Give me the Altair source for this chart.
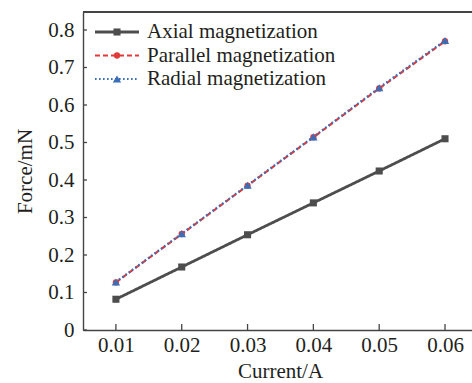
import altair as alt
import pandas as pd

current = [0.01, 0.02, 0.03, 0.04, 0.05, 0.06]
axial = [0.082, 0.168, 0.254, 0.339, 0.424, 0.510]
parallel = [0.127, 0.256, 0.385, 0.514, 0.644, 0.770]
radial = [0.128, 0.257, 0.386, 0.515, 0.646, 0.772]
series_names = ["Axial magnetization", "Parallel magnetization", "Radial magnetization"]
y_ticks = [0, 0.1, 0.2, 0.3, 0.4, 0.5, 0.6, 0.7, 0.8]
x_ticks = current

W, H = 389, 318
FONT = "Liberation Serif"
TXT = "#231f20"
colors = ["#4d4d4d", "#e03a3a", "#3a6fb8"]
dashes = [[1, 0], [5, 3], [1.6, 2.4]]
shapes = ["square", "circle", "triangle-up"]
sizes = [50, 40, 70]
widths = [2.8, 2.2, 2.2]

df = pd.DataFrame({"current": current, "axial": axial, "parallel": parallel, "radial": radial})

xs = alt.Scale(domain=[0.005, 0.0641], nice=False, zero=False)
ys = alt.Scale(domain=[0, 0.848], nice=False)

xax = alt.Axis(values=x_ticks, format=".2f", ticks=False, grid=False, domainColor="#444",
               domainWidth=1.4, labelFont=FONT, labelFontSize=21, labelColor=TXT,
               labelPadding=4, title="Current/A", titleFont=FONT, titleFontSize=21,
               titleFontWeight="normal", titleColor=TXT, titleX=197, titleY=47,
               titleBaseline="alphabetic", titleAlign="center")
yax = alt.Axis(values=y_ticks, ticks=False, grid=False, domainColor="#444", domainWidth=1.4,
               labelFont=FONT, labelFontSize=21, labelColor=TXT, labelPadding=9,
               labelExpr="datum.value == 0 ? '0' : format(datum.value, '.1f')",
               title="Force/mN", titleFont=FONT, titleFontSize=21, titleFontWeight="normal",
               titleColor=TXT, titleAngle=-90, titleX=-52, titleY=159,
               titleBaseline="alphabetic", titleAlign="center")


def ex(field):
    return alt.X(field, scale=xs, axis=xax, title="Current/A")


def ey(field):
    return alt.Y(field, scale=ys, axis=yax, title="Force/mN")


base = alt.Chart(df)
layers = []
cols = ["axial", "parallel", "radial"]
for i, c in enumerate(cols):
    layers.append(base.mark_line(color=colors[i], strokeWidth=widths[i],
                                 strokeDash=dashes[i]).encode(x=ex("current:Q"), y=ey(f"{c}:Q")))
for i, c in enumerate(cols):
    layers.append(base.mark_point(shape=shapes[i], filled=True, opacity=1, color=colors[i],
                                  size=sizes[i]).encode(x=ex("current:Q"), y=ey(f"{c}:Q")))

# inward ticks
ytick_df = pd.DataFrame({"v": y_ticks})
xtick_df = pd.DataFrame({"v": x_ticks})
layers.append(alt.Chart(ytick_df).mark_rule(color="#444", strokeWidth=1.3).encode(
    y=ey("v:Q"), x=alt.value(0), x2=alt.value(4)))
layers.append(alt.Chart(xtick_df).mark_rule(color="#444", strokeWidth=1.3).encode(
    x=ex("v:Q"), y=alt.value(H), y2=alt.value(H - 6)))
# top frame line
layers.append(alt.Chart(ytick_df).mark_rule(color="#444", strokeWidth=1.4).encode(
    x=alt.value(0), x2=alt.value(W + 5), y=alt.value(0)))

# manual legend
leg_df = pd.DataFrame({"name": series_names})
for i, name in enumerate(series_names):
    yy = 20 + i * 23.5
    d = alt.Chart(leg_df[leg_df["name"] == name])
    layers.append(d.mark_rule(color=colors[i], strokeWidth=widths[i], strokeDash=dashes[i]).encode(
        x=alt.value(12), x2=alt.value(56), y=alt.value(yy)))
    layers.append(d.mark_point(shape=shapes[i], filled=True, opacity=1, color=colors[i],
                               size=sizes[i]).encode(x=alt.value(34), y=alt.value(yy)))
    layers.append(d.mark_text(font=FONT, fontSize=21, color=TXT, align="left",
                              baseline="middle").encode(x=alt.value(64), y=alt.value(yy),
                                                        text="name:N"))

chart = alt.layer(*layers).properties(
    width=W, height=H,
    autosize=alt.AutoSizeParams(type="none"),
    padding={"left": 83, "top": 12, "right": 0, "bottom": 53},
).configure_view(stroke=None).configure_axis(
    labelFont=FONT, titleFont=FONT
).configure(background="white", font=FONT)

chart.save("out.html", embed_options={"renderer": "svg", "actions": False})
